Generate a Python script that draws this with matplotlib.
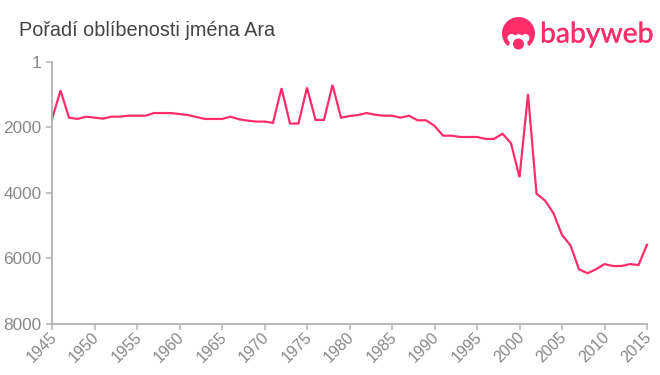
import matplotlib
matplotlib.use("Agg")
import matplotlib.pyplot as plt
import matplotlib.patheffects as pe
from matplotlib.patches import Circle, Wedge
from matplotlib.transforms import ScaledTranslation

years = list(range(1945, 2016))
ranks = [1750, 870, 1700, 1740, 1670, 1700, 1730, 1670, 1670, 1640,
         1640, 1640, 1560, 1560, 1560, 1590, 1620, 1680, 1740, 1740,
         1740, 1670, 1750, 1790, 1820, 1820, 1860, 800, 1880, 1880,
         780, 1770, 1770, 700, 1700, 1650, 1620, 1560, 1610, 1640,
         1640, 1700, 1640, 1780, 1780, 1950, 2250, 2250, 2290, 2290,
         2290, 2350, 2350, 2190, 2480, 3520, 980, 4020, 4230, 4620,
         5280, 5600, 6330, 6450, 6330, 6170, 6230, 6230, 6170, 6200,
         5580]
x_ticks = list(range(1945, 2016, 5))
y_ticks = [1, 2000, 4000, 6000, 8000]
title = "Pořadí oblíbenosti jména Ara"
brand = "babyweb"

W, H = 660, 375
PINK = "#ff2e6a"
GREY = "#888888"
AXIS = "#b3b3b3"
plt.rcParams["font.family"] = ["Liberation Sans", "DejaVu Sans"]

fig = plt.figure(figsize=(W / 100, H / 100), dpi=100, facecolor="white")
ax = fig.add_axes([52 / W, 1 - 324 / H, (647 - 52) / W, (324 - 62) / H])
ax.plot(years, ranks, color=PINK, lw=1.6, clip_on=False, solid_joinstyle="miter")
ax.set_xlim(1945, 2015)
ax.set_ylim(8000, 1)
ax.set_xticks(x_ticks)
ax.set_yticks(y_ticks)
for s in ("top", "right"):
    ax.spines[s].set_visible(False)
for s in ("left", "bottom"):
    ax.spines[s].set_color(AXIS)
    ax.spines[s].set_linewidth(1.3)
ax.tick_params(axis="both", color=AXIS, width=1.1, length=4, labelcolor=GREY)
ax.tick_params(axis="y", labelsize=12.4, pad=3.5)
ax.tick_params(axis="x", labelsize=11.4, pad=0)
shift = ScaledTranslation(-3 / 100, 0, fig.dpi_scale_trans)
for lab in ax.get_xticklabels():
    lab.set_rotation(45)
    lab.set_ha("right")
    lab.set_rotation_mode("anchor")
    lab.set_transform(lab.get_transform() + shift)

fig.text(19 / W, 1 - 30 / H, title, fontsize=14.3, color="#444444",
         va="center", ha="left")

# logo drawn in pixel coordinates
logo = fig.add_axes([0, 0, 1, 1], facecolor="none")
logo.set_xlim(0, W)
logo.set_ylim(H, 0)
logo.axis("off")
logo.add_patch(Wedge((518.5, 33.5), 16.5, 130, 50, facecolor=PINK, edgecolor="none"))
logo.add_patch(Circle((518.5, 43.5), 9, facecolor="white", edgecolor="none"))
logo.add_patch(Circle((511.5, 38), 4, facecolor="white", edgecolor="none"))
logo.add_patch(Circle((525.5, 38), 4, facecolor="white", edgecolor="none"))
logo.add_patch(Circle((518.5, 44), 5.5, facecolor=PINK, edgecolor="none"))
logo.text(540, 34.5, brand, fontsize=20.4, color=PINK, family=["Lato", "DejaVu Sans"],
          va="center", ha="left",
          path_effects=[pe.withStroke(linewidth=0.25, foreground=PINK)])

fig.savefig("out.png", dpi=100, facecolor="white")
